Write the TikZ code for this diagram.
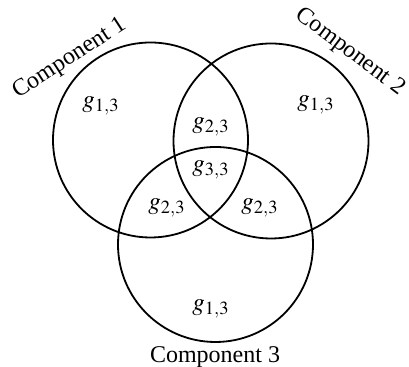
\documentclass[tikz,border=0pt]{standalone}
\usepackage{mathptmx}
\usepackage{fontspec}
\setmainfont{Liberation Serif}
\usepackage{tikz}

\begin{document}
\begin{tikzpicture}[x=0.5pt, y=-0.5pt]
\tikzset{ set/.style={draw, circle, line width=0.9pt, inner sep=0pt, minimum size=97.5pt},
          lbl/.style={font=\fontsize{12}{14}\selectfont, inner sep=0pt},
          gen/.style={font=\fontsize{12.5}{14}\selectfont, inner sep=0pt} }

\useasboundingbox (0,0) rectangle (409,367);

% componentes
\node [set] (C1) at (150.5,140) {};
\node [set] (C2) at (271,141) {};
\node [set] (C3) at (215.5,244.5) {};

\node [lbl, rotate=33]  (L1) at (70,59)  {Component 1};
\node [lbl, rotate=-37] (L2) at (350,52) {Component 2};
\node [lbl]             (L3) at (215,357) {Component 3};

% regioes
\node [gen] (A) at (101,106) {$g_{1,3}$};
\node [gen] (B) at (316,105) {$g_{1,3}$};
\node [gen] (C) at (211,309) {$g_{1,3}$};

\node [gen] (AB)  at (211,127) {$g_{2,3}$};
\node [gen] (AC)  at (167,208) {$g_{2,3}$};
\node [gen] (BC)  at (260,208) {$g_{2,3}$};
\node [gen] (ABC) at (211,170) {$g_{3,3}$};

\end{tikzpicture}
\end{document}
